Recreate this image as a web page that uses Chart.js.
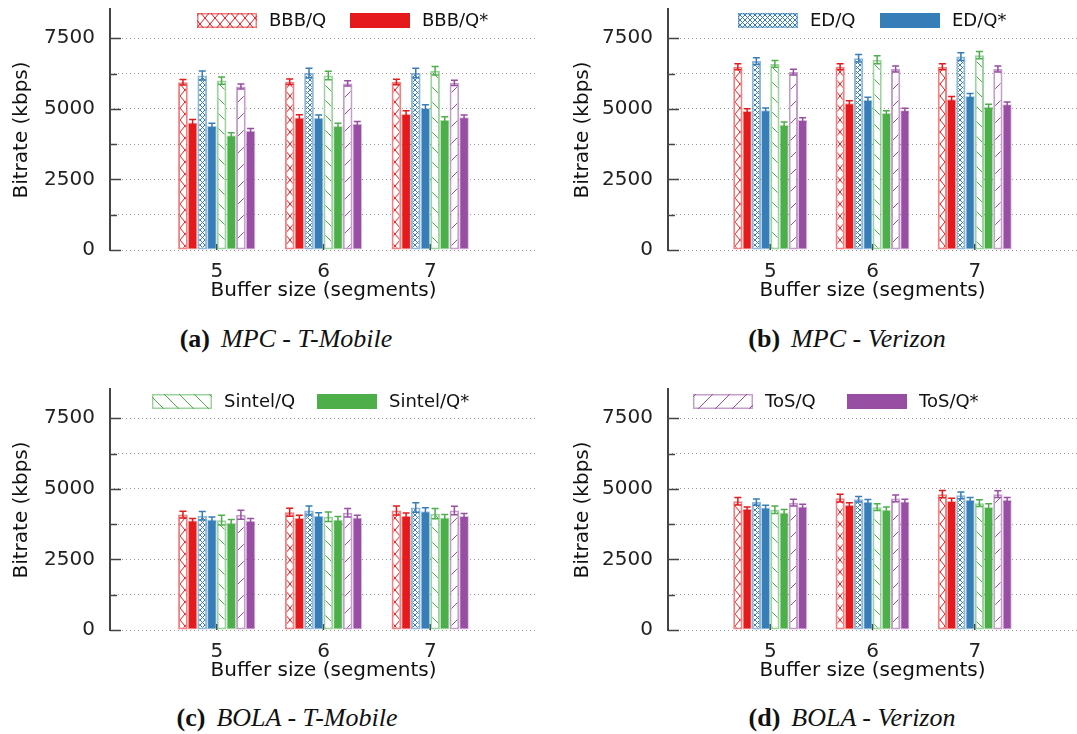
<!DOCTYPE html>
<html>
<head>
<meta charset="utf-8">
<script src="https://cdn.jsdelivr.net/npm/chart.js@4/dist/chart.umd.min.js"></script>
<style>
  body { margin: 0; background: #fff; width: 1077px; height: 734px; position: relative; overflow: hidden; }
  canvas { position: absolute; }
  .cap { position: absolute; font: 26px 'Liberation Serif', serif; color: #111; transform: translateX(-50%); white-space: nowrap; }
  .cap b { margin-right: 11px; }
</style>
</head>
<body>
<canvas id="c0" width="537" height="310" style="left:0;top:0"></canvas>
<canvas id="c1" width="537" height="310" style="left:540px;top:0"></canvas>
<canvas id="c2" width="537" height="310" style="left:0;top:380px"></canvas>
<canvas id="c3" width="537" height="310" style="left:540px;top:380px"></canvas>
<div class="cap" style="left:286px;top:324px"><b>(a)</b><i>MPC - T-Mobile</i></div>
<div class="cap" style="left:847px;top:324px"><b>(b)</b><i>MPC - Verizon</i></div>
<div class="cap" style="left:287px;top:703px"><b>(c)</b><i>BOLA - T-Mobile</i></div>
<div class="cap" style="left:852px;top:703px"><b>(d)</b><i>BOLA - Verizon</i></div>
<script>
/* ── Data ── */

const bufferSizes = ['5', '6', '7'];
const series = ['BBB/Q', 'BBB/Q*', 'ED/Q', 'ED/Q*', 'Sintel/Q', 'Sintel/Q*', 'ToS/Q', 'ToS/Q*'];
const yTicks = [0, 1250, 2500, 3750, 5000, 6250, 7500];
const yLabelled = [0, 2500, 5000, 7500];

// rows follow `series`, columns follow `bufferSizes`
const mpcTmobile = [
  [5940, 5960, 5950], [4520, 4690, 4820],
  [6180, 6270, 6270], [4400, 4680, 5030],
  [6000, 6180, 6350], [4060, 4390, 4610],
  [5790, 5900, 5920], [4220, 4470, 4700]
];
const mpcTmobileErr = [
  [100, 100, 100], [100, 100, 110],
  [160, 170, 170], [90, 100, 110],
  [130, 150, 150], [90, 100, 110],
  [90, 90, 90], [80, 80, 80]
];

const mpcVerizon = [
  [6490, 6490, 6490], [4920, 5200, 5340],
  [6690, 6790, 6850], [4950, 5320, 5450],
  [6590, 6740, 6900], [4440, 4850, 5070],
  [6300, 6410, 6410], [4600, 4950, 5160]
];
const mpcVerizonErr = [
  [110, 110, 110], [80, 90, 100],
  [120, 130, 140], [80, 90, 90],
  [120, 140, 130], [90, 80, 90],
  [100, 110, 110], [80, 70, 80]
];

const bolaTmobile = [
  [4090, 4170, 4230], [3880, 3970, 4050],
  [4050, 4230, 4340], [3910, 4050, 4210],
  [3890, 4010, 4120], [3800, 3910, 3980],
  [4080, 4150, 4230], [3870, 3980, 4040]
];
const bolaTmobileErr = [
  [120, 140, 160], [70, 90, 90],
  [150, 160, 170], [90, 100, 120],
  [170, 170, 180], [110, 110, 110],
  [160, 150, 150], [80, 80, 90]
];

const bolaVerizon = [
  [4560, 4670, 4810], [4290, 4430, 4570],
  [4530, 4630, 4770], [4340, 4540, 4610],
  [4260, 4350, 4490], [4160, 4260, 4360],
  [4510, 4660, 4810], [4370, 4550, 4610]
];
const bolaVerizonErr = [
  [130, 140, 130], [70, 80, 100],
  [110, 100, 120], [80, 80, 80],
  [130, 120, 120], [110, 100, 110],
  [120, 120, 120], [80, 80, 80]
];

/* ── Styles ── */

const COLORS = ['#e41a1c', '#377eb8', '#4daf4a', '#984ea3'];
const HATCH = ['cross', 'dense', 'back', 'fwd'];
const FONT = 'DejaVu Sans';

function rgba(hex, a) {
  const n = parseInt(hex.slice(1), 16);
  return `rgba(${n >> 16},${(n >> 8) & 255},${n & 255},${a})`;
}

function makeHatch(color, kind) {
  const size = { cross: [10, 12], dense: [5, 5], back: [15, 15], fwd: [17, 17] }[kind];
  const [w, h] = size;
  const c = document.createElement('canvas');
  c.width = w; c.height = h;
  const g = c.getContext('2d');
  g.fillStyle = '#fff';
  g.fillRect(0, 0, w, h);
  g.strokeStyle = color;
  g.lineWidth = 1;
  g.beginPath();
  if (kind === 'cross' || kind === 'dense') {
    g.moveTo(0, 0); g.lineTo(w, h);
    g.moveTo(w, 0); g.lineTo(0, h);
  } else if (kind === 'back') {
    g.moveTo(0, 0); g.lineTo(w, h);
    g.moveTo(-1, h - 1); g.lineTo(1, h + 1);
    g.moveTo(w - 1, -1); g.lineTo(w + 1, 1);
  } else {
    g.moveTo(0, h); g.lineTo(w, 0);
    g.moveTo(-1, 1); g.lineTo(1, -1);
    g.moveTo(w - 1, h + 1); g.lineTo(w + 1, h - 1);
  }
  g.stroke();
  return g.createPattern(c, 'repeat');
}

/* ── Plugins ── */

const errorBars = {
  id: 'errorBars',
  afterDatasetsDraw(chart) {
    const { ctx } = chart;
    const y = chart.scales.y;
    chart.data.datasets.forEach((ds, i) => {
      const meta = chart.getDatasetMeta(i);
      ctx.save();
      ctx.strokeStyle = ds.errColor;
      ctx.lineWidth = 1.5;
      meta.data.forEach((bar, j) => {
        const v = ds.data[j];
        if (v == null) return;
        const e = ds.err[j];
        const top = y.getPixelForValue(v + e);
        const bot = y.getPixelForValue(v - e);
        ctx.beginPath();
        ctx.moveTo(bar.x, top); ctx.lineTo(bar.x, bot);
        ctx.moveTo(bar.x - 3.5, top); ctx.lineTo(bar.x + 3.5, top);
        ctx.moveTo(bar.x - 3.5, bot); ctx.lineTo(bar.x + 3.5, bot);
        ctx.stroke();
      });
      ctx.restore();
    });
  }
};

const axisMarks = {
  id: 'axisMarks',
  beforeDatasetsDraw(chart) {
    const { ctx, chartArea: a } = chart;
    const x = chart.scales.x;
    ctx.save();
    ctx.strokeStyle = '#444';
    ctx.lineWidth = 1.5;
    ctx.beginPath();
    for (let i = 1; i <= bufferSizes.length; i++) {
      const px = x.getPixelForValue(i);
      ctx.moveTo(px, a.bottom); ctx.lineTo(px, a.bottom - 6);
    }
    ctx.stroke();
    ctx.restore();
  },
  afterDatasetsDraw(chart) {
    const { ctx, chartArea: a } = chart;
    const y = chart.scales.y;
    ctx.save();
    ctx.strokeStyle = '#444';
    ctx.lineWidth = 2;
    ctx.beginPath();
    ctx.moveTo(a.left, a.top - 2); ctx.lineTo(a.left, a.bottom + 1);
    ctx.stroke();
    ctx.lineWidth = 1.5;
    ctx.beginPath();
    y.ticks.forEach(t => {
      const py = Math.round(y.getPixelForValue(t.value)) + 0.5;
      const len = yLabelled.includes(t.value) ? 11 : 7;
      ctx.moveTo(a.left, py); ctx.lineTo(a.left + len, py);
    });
    ctx.stroke();
    ctx.restore();
  }
};

const pairLegend = {
  id: 'pairLegend',
  afterDraw(chart, args, opts) {
    if (!opts.items) return;
    const { ctx } = chart;
    ctx.save();
    ctx.font = `18px ${FONT}`;
    ctx.textBaseline = 'middle';
    opts.items.forEach((idx, k) => {
      const ds = chart.data.datasets[idx];
      const bx = opts.xs[k], by = opts.y;
      ctx.fillStyle = ds.backgroundColor;
      ctx.fillRect(bx, by, 60, 15);
      ctx.strokeStyle = ds.borderColor;
      ctx.lineWidth = 1.5;
      ctx.strokeRect(bx + 0.75, by + 0.75, 58.5, 13.5);
      ctx.fillStyle = '#111';
      ctx.fillText(ds.label, bx + 72, by + 8);
    });
    ctx.restore();
  }
};

/* ── Charts ── */

function buildDatasets(values, errs) {
  return series.map((name, i) => {
    const col = COLORS[Math.floor(i / 2)];
    const hatched = i % 2 === 0;
    return {
      label: name,
      data: [null, ...values[i], null],
      err: [null, ...errs[i], null],
      backgroundColor: hatched ? makeHatch(col, HATCH[Math.floor(i / 2)]) : col,
      borderColor: hatched ? rgba(col, 0.55) : rgba(col, 0.35),
      borderWidth: hatched ? 2 : 1,
      borderSkipped: false,
      errColor: col
    };
  });
}

function noPad(s) {
  s.paddingTop = 0; s.paddingBottom = 0;
  s.paddingLeft = 0; s.paddingRight = 0;
}

function drawPanel(id, values, errs, axisX, padL, legend) {
  return new Chart(document.getElementById(id), {
    type: 'bar',
    data: { labels: ['', ...bufferSizes, ''], datasets: buildDatasets(values, errs) },
    options: {
      responsive: false,
      animation: false,
      layout: { padding: { left: padL, top: 10, right: 0, bottom: 0 } },
      categoryPercentage: 0.724,
      barPercentage: 1,
      plugins: {
        legend: { display: false },
        tooltip: { enabled: false },
        pairLegend: legend
      },
      scales: {
        x: {
          offset: false,
          grid: { display: false },
          border: { display: false },
          ticks: { autoSkip: false, maxRotation: 0, padding: 2, color: '#222', font: { family: FONT, size: 20 } },
          title: { display: true, text: 'Buffer size (segments)', color: '#111', font: { family: FONT, size: 20 }, padding: { top: 0, bottom: 7 } },
          afterFit: s => { s.height = 60; noPad(s); }
        },
        y: {
          min: 0,
          max: 8500,
          afterBuildTicks: s => { s.ticks = yTicks.map(v => ({ value: v })); },
          ticks: {
            autoSkip: false,
            padding: 15,
            color: '#222',
            font: { family: FONT, size: 20 },
            callback: v => yLabelled.includes(v) ? String(v) : ''
          },
          grid: { color: '#999', lineWidth: 1, drawTicks: false },
          border: { display: false, dash: [1, 3] },
          title: { display: true, text: 'Bitrate (kbps)', color: '#111', font: { family: FONT, size: 20 }, padding: { top: 0, bottom: 0 } },
          afterFit: s => { s.width = axisX - padL; noPad(s); }
        }
      }
    },
    plugins: [axisMarks, errorBars, pairLegend]
  });
}

drawPanel('c0', mpcTmobile, mpcTmobileErr, 110, 10, { items: [0, 1], xs: [197, 350], y: 13 });
drawPanel('c1', mpcVerizon, mpcVerizonErr, 128, 31, { items: [2, 3], xs: [198, 340], y: 13 });
drawPanel('c2', bolaTmobile, bolaTmobileErr, 110, 10, { items: [4, 5], xs: [152, 317], y: 14 });
drawPanel('c3', bolaVerizon, bolaVerizonErr, 128, 31, { items: [6, 7], xs: [153, 307], y: 14 });
</script>
</body>
</html>
